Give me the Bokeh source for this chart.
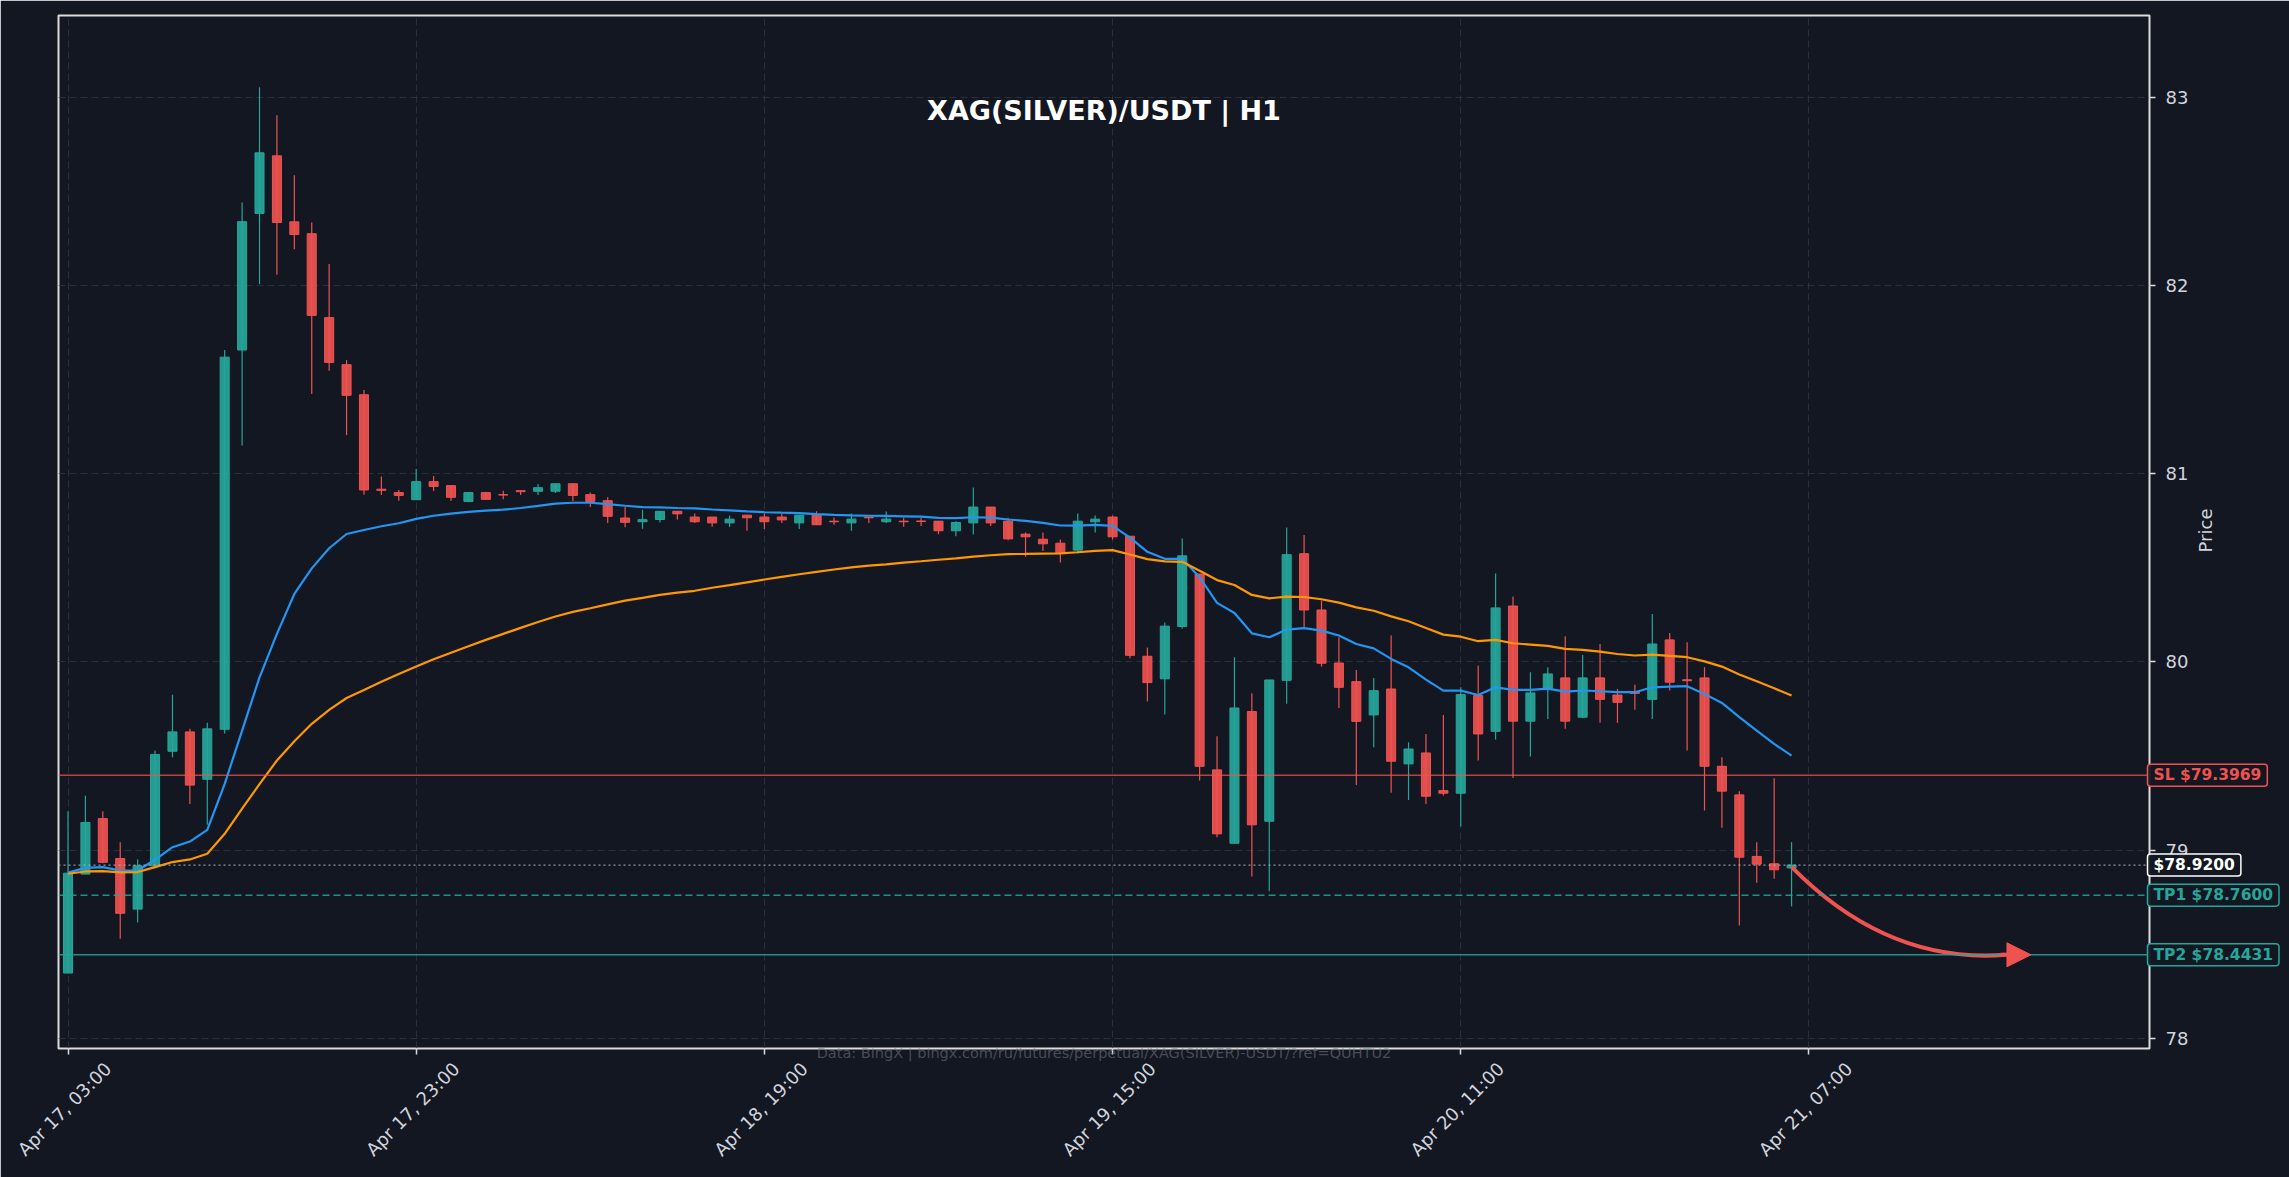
import numpy as np
from bokeh.plotting import figure
from bokeh.models import (ColumnDataSource, Span, Label, FixedTicker, Range1d,
                          Arrow, NormalHead, LinearAxis)
from bokeh.embed import file_html
from bokeh.resources import INLINE

# ---------------- data ----------------
opens = [78.346, 78.872, 79.167, 78.955, 78.686, 78.916, 79.525, 79.628, 79.376, 79.642,
         81.658, 82.384, 82.690, 82.339, 82.276, 81.830, 81.580, 81.420, 80.918, 80.900,
         80.862, 80.958, 80.937, 80.853, 80.900, 80.889, 80.910, 80.907, 80.907, 80.947,
         80.889, 80.857, 80.765, 80.745, 80.757, 80.801, 80.770, 80.770, 80.739, 80.780,
         80.770, 80.770, 80.739, 80.780, 80.748, 80.739, 80.770, 80.745, 80.748, 80.749,
         80.748, 80.697, 80.739, 80.823, 80.748, 80.679, 80.652, 80.631, 80.594, 80.745,
         80.770, 80.668, 80.030, 79.910, 80.188, 80.467, 79.426, 79.036, 79.736, 79.153,
         79.902, 80.575, 80.276, 79.994, 79.895, 79.718, 79.856, 79.458, 79.516, 79.316,
         79.302, 79.821, 79.631, 80.297, 79.685, 79.860, 79.915, 79.706, 79.915, 79.824,
         79.842, 79.801, 80.117, 79.905, 79.915, 79.445, 79.293, 78.966, 78.927, 78.905]

highs = [79.206, 79.288, 79.206, 79.042, 78.951, 79.529, 79.825, 79.644, 79.676, 81.658,
         82.442, 83.055, 82.906, 82.587, 82.336, 82.115, 81.604, 81.445, 80.986, 80.914,
         81.025, 80.988, 80.937, 80.900, 80.900, 80.910, 80.910, 80.946, 80.947, 80.947,
         80.900, 80.875, 80.825, 80.808, 80.800, 80.801, 80.789, 80.770, 80.778, 80.780,
         80.789, 80.789, 80.780, 80.801, 80.768, 80.789, 80.770, 80.800, 80.766, 80.766,
         80.748, 80.748, 80.927, 80.823, 80.766, 80.688, 80.688, 80.651, 80.789, 80.778,
         80.778, 80.668, 80.076, 80.209, 80.656, 80.467, 79.605, 80.025, 79.833, 79.904,
         80.715, 80.675, 80.326, 80.131, 79.957, 79.915, 80.140, 79.573, 79.617, 79.718,
         79.865, 79.980, 80.470, 80.347, 79.945, 79.972, 80.136, 80.037, 80.095, 79.856,
         79.878, 80.255, 80.154, 80.104, 79.972, 79.493, 79.313, 79.042, 79.382, 79.042]

lows = [78.346, 78.872, 78.930, 78.528, 78.615, 78.916, 79.493, 79.245, 79.134, 79.620,
        81.150, 82.008, 82.058, 82.194, 81.424, 81.548, 81.206, 80.889, 80.887, 80.857,
        80.862, 80.908, 80.855, 80.853, 80.864, 80.865, 80.887, 80.887, 80.898, 80.855,
        80.823, 80.738, 80.716, 80.708, 80.741, 80.757, 80.739, 80.718, 80.718, 80.697,
        80.707, 80.739, 80.707, 80.729, 80.729, 80.697, 80.739, 80.739, 80.718, 80.722,
        80.679, 80.668, 80.677, 80.722, 80.647, 80.559, 80.589, 80.528, 80.576, 80.688,
        80.651, 80.020, 79.790, 79.720, 80.177, 79.369, 79.068, 79.036, 78.859, 78.781,
        79.777, 80.184, 79.975, 79.755, 79.346, 79.546, 79.304, 79.266, 79.245, 79.290,
        79.125, 79.476, 79.587, 79.383, 79.497, 79.697, 79.644, 79.700, 79.676, 79.676,
        79.745, 79.697, 79.848, 79.529, 79.210, 79.118, 78.599, 78.826, 78.847, 78.700]

closes = [78.877, 79.146, 78.935, 78.664, 78.916, 79.508, 79.628, 79.345, 79.644, 81.620,
          82.340, 82.706, 82.336, 82.272, 81.842, 81.592, 81.417, 80.914, 80.912, 80.885,
          80.958, 80.933, 80.875, 80.900, 80.864, 80.887, 80.905, 80.926, 80.947, 80.885,
          80.853, 80.774, 80.742, 80.756, 80.800, 80.787, 80.745, 80.739, 80.759, 80.766,
          80.745, 80.755, 80.780, 80.729, 80.745, 80.759, 80.766, 80.759, 80.745, 80.746,
          80.697, 80.741, 80.823, 80.739, 80.654, 80.665, 80.628, 80.580, 80.748, 80.759,
          80.665, 80.035, 79.890, 80.190, 80.564, 79.445, 79.086, 79.755, 79.134, 79.904,
          80.570, 80.276, 79.993, 79.865, 79.684, 79.847, 79.472, 79.537, 79.286, 79.302,
          79.826, 79.617, 80.287, 79.685, 79.835, 79.936, 79.685, 79.915, 79.801, 79.785,
          79.833, 80.095, 79.892, 79.900, 79.445, 79.313, 78.962, 78.925, 78.895, 78.920]

ema_fast = [78.880, 78.905, 78.909, 78.891, 78.891, 78.948, 79.015, 79.045, 79.107, 79.352,
            79.635, 79.918, 80.149, 80.361, 80.497, 80.604, 80.680, 80.701, 80.721, 80.737,
            80.760, 80.777, 80.788, 80.797, 80.804, 80.809, 80.818, 80.829, 80.841, 80.846,
            80.846, 80.839, 80.830, 80.823, 80.821, 80.818, 80.816, 80.810, 80.805, 80.800,
            80.796, 80.793, 80.791, 80.786, 80.782, 80.779, 80.777, 80.776, 80.774, 80.772,
            80.766, 80.764, 80.769, 80.767, 80.757, 80.750, 80.739, 80.725, 80.724, 80.728,
            80.723, 80.661, 80.585, 80.548, 80.548, 80.450, 80.314, 80.260, 80.152, 80.131,
            80.172, 80.180, 80.166, 80.140, 80.095, 80.072, 80.016, 79.971, 79.906, 79.847,
            79.847, 79.824, 79.865, 79.851, 79.851, 79.858, 79.842, 79.848, 79.844, 79.839,
            79.839, 79.865, 79.869, 79.871, 79.830, 79.782, 79.706, 79.635, 79.564, 79.502]

ema_slow = [78.874, 78.886, 78.888, 78.881, 78.883, 78.909, 78.936, 78.950, 78.980, 79.086,
            79.220, 79.350, 79.476, 79.578, 79.671, 79.745, 79.808, 79.851, 79.895, 79.936,
            79.975, 80.014, 80.049, 80.083, 80.117, 80.149, 80.181, 80.212, 80.241, 80.266,
            80.285, 80.306, 80.326, 80.340, 80.356, 80.368, 80.378, 80.394, 80.408, 80.423,
            80.438, 80.452, 80.466, 80.479, 80.491, 80.502, 80.512, 80.518, 80.528, 80.535,
            80.543, 80.550, 80.560, 80.567, 80.573, 80.574, 80.576, 80.577, 80.583, 80.590,
            80.594, 80.571, 80.546, 80.534, 80.532, 80.485, 80.435, 80.409, 80.356, 80.338,
            80.347, 80.345, 80.333, 80.315, 80.290, 80.272, 80.242, 80.216, 80.180, 80.145,
            80.134, 80.110, 80.117, 80.099, 80.092, 80.085, 80.069, 80.064, 80.055, 80.042,
            80.034, 80.039, 80.032, 80.025, 80.003, 79.975, 79.933, 79.897, 79.860, 79.821]

tick_pos = [0, 20, 40, 60, 80, 100]
tick_labels = ["Apr 17, 03:00", "Apr 17, 23:00", "Apr 18, 19:00",
               "Apr 19, 15:00", "Apr 20, 11:00", "Apr 21, 07:00"]
price_ticks = [78, 79, 80, 81, 82, 83]

sl_price = 79.3969
tp1_price = 78.7600
tp2_price = 78.4431
last_price = 78.9200

title_text = "XAG(SILVER)/USDT | H1"
source_text = "Data: BingX | bingx.com/ru/futures/perpetual/XAG(SILVER)-USDT/?ref=QUHTU2"

# ---------------- style ----------------
BG = "#131722"
GREEN = "#26a69a"
RED = "#ef5350"
BLUE = "#2196f3"
ORANGE = "#ff9800"
FG = "#d1d4dc"
FRAME = "#dcdcdc"
FONT = "DejaVu Sans"

W, H = 2289, 1177
ML, MR, MT, MB = 58, 140, 15, 129
FW, FH = W - ML - MR, H - MT - MB
x0, x1 = -0.546, 119.56
y0, y1 = 77.945, 83.436
px_x = (x1 - x0) / FW
px_y = (y1 - y0) / FH

p = figure(width=W, height=H, output_backend="svg", toolbar_location=None,
           x_range=Range1d(x0, x1), y_range=Range1d(y0, y1),
           x_axis_location="below", y_axis_location="right",
           min_border_left=ML, min_border_right=MR, min_border_top=MT, min_border_bottom=MB,
           background_fill_color=BG, border_fill_color=BG,
           outline_line_color=FRAME, outline_line_width=2)

# x axis: tick marks only
xa = p.xaxis[0]
xa.ticker = FixedTicker(ticks=tick_pos)
xa.major_label_overrides = {t: "" for t in tick_pos}
xa.major_label_text_font_size = "0px"
xa.major_label_standoff = 0
xa.axis_line_color = None
xa.major_tick_line_color = FRAME
xa.major_tick_line_width = 1.5
xa.major_tick_out = 6
xa.major_tick_in = 0
xa.minor_tick_line_color = None

# x tick labels: second axis on a range shifted so the slanted labels sit centred on the ticks
shift = 40 * px_x
p.extra_x_ranges = {"labels": Range1d(x0 - shift, x1 - shift)}
la = LinearAxis(x_range_name="labels", ticker=FixedTicker(ticks=tick_pos),
                major_label_overrides={t: s for t, s in zip(tick_pos, tick_labels)},
                major_label_orientation=np.pi / 4,
                major_label_text_color=FG, major_label_text_font=FONT,
                major_label_text_font_size="18px", major_label_standoff=11,
                axis_line_color=None, major_tick_line_color=None,
                major_tick_out=0, major_tick_in=0, minor_tick_line_color=None)
p.add_layout(la, "below")

# y axis on the right
ya = p.yaxis[0]
ya.ticker = FixedTicker(ticks=price_ticks)
ya.axis_line_color = None
ya.major_tick_line_color = FRAME
ya.major_tick_line_width = 1.5
ya.major_tick_out = 6
ya.major_tick_in = 0
ya.minor_tick_line_color = None
ya.major_label_text_color = FG
ya.major_label_text_font = FONT
ya.major_label_text_font_size = "18px"
ya.major_label_standoff = 10

for g in (p.xgrid[0], p.ygrid[0]):
    g.grid_line_color = "#363a45"
    g.grid_line_alpha = 0.7
    g.grid_line_dash = "7 4"
    g.grid_line_width = 1

# candles
idx = np.arange(len(closes))
o = np.array(opens); c = np.array(closes)
colors = [GREEN if cc >= oo else RED for oo, cc in zip(o, c)]
src = ColumnDataSource(dict(x=idx, h=highs, l=lows,
                            top=np.maximum(o, c), bottom=np.minimum(o, c),
                            color=colors))
p.segment(x0="x", y0="h", x1="x", y1="l", line_color="color", line_width=1.2, source=src)
p.vbar(x="x", width=0.52, top="top", bottom="bottom", fill_color="color",
       line_color="color", line_width=1, fill_alpha=0.92, source=src)

# moving averages
p.line(idx, ema_fast, line_color=BLUE, line_width=2.2)
p.line(idx, ema_slow, line_color=ORANGE, line_width=2.2)

# levels
p.add_layout(Span(location=sl_price, dimension="width", line_color=RED, line_width=1.5, line_alpha=0.75))
p.add_layout(Span(location=last_price, dimension="width", line_color="#b2b5be", line_width=1.3,
                  line_alpha=0.8, line_dash="2 3"))
p.add_layout(Span(location=tp1_price, dimension="width", line_color=GREEN, line_width=1.5,
                  line_alpha=0.85, line_dash="7 4"))
p.add_layout(Span(location=tp2_price, dimension="width", line_color=GREEN, line_width=1.5, line_alpha=0.85))

# projection arrow
n_last = len(closes) - 1
ax_end = n_last + 12.3
p.quadratic(x0=[n_last], y0=[last_price - 0.01], x1=[ax_end], y1=[tp2_price],
            cx=[n_last + 5.5], cy=[tp2_price - 0.05], line_color=RED, line_width=4)
p.add_layout(Arrow(end=NormalHead(size=24, fill_color=RED, line_color=RED, line_width=1),
                   x_start=ax_end - 0.3, y_start=tp2_price, x_end=ax_end + 1.45, y_end=tp2_price,
                   line_color=RED, line_width=4))

# chart title (inside the frame)
p.add_layout(Label(x=(x0 + x1) / 2, y=y1 - 95 * px_y, text=title_text,
                   text_align="center", text_baseline="middle",
                   text_color="#ffffff", text_font=FONT, text_font_size="27px",
                   text_font_style="bold"))

# ---- transparent overlay (separate root) with the same value mapping extended to the
#      whole canvas, for texts that sit outside the frame ----
ov = figure(width=W, height=H, output_backend="svg", toolbar_location=None,
            x_range=Range1d(x0 - ML * px_x, x1 + MR * px_x),
            y_range=Range1d(y0 - MB * px_y, y1 + MT * px_y),
            x_axis_location=None, y_axis_location=None, min_border=0,
            background_fill_color=None, border_fill_color=None, outline_line_color=None,
            styles={"position": "absolute", "left": "0px", "top": "0px"})
for g in list(ov.xgrid) + list(ov.ygrid):
    g.visible = False

def tag(price, text, color):
    ov.add_layout(Label(x=x1, y=price, x_offset=-2, text=text, text_align="left",
                        text_baseline="middle", text_color=color, text_font=FONT,
                        text_font_size="15.5px", text_font_style="bold",
                        background_fill_color=BG, background_fill_alpha=0.95,
                        border_line_color=color, border_line_width=1.5,
                        border_radius=3,
                        padding=dict(left=6, right=6, top=2, bottom=2)))

tag(sl_price, f"SL ${sl_price:.4f}", RED)
tag(last_price, f"${last_price:.4f}", "#ffffff")
tag(tp1_price, f"TP1 ${tp1_price:.4f}", GREEN)
tag(tp2_price, f"TP2 ${tp2_price:.4f}", GREEN)

ov.add_layout(Label(x=x1 + 56 * px_x, y=y1 - 515 * px_y, text="Price", angle=np.pi / 2,
                    text_align="center", text_baseline="middle",
                    text_color=FG, text_font=FONT, text_font_size="18px"))

ov.add_layout(Label(x=(x0 + x1) / 2, y=y0 - 4.5 * px_y, text=source_text,
                    text_align="center", text_baseline="alphabetic",
                    text_color="#787b86", text_alpha=0.55, text_font=FONT,
                    text_font_size="14.5px"))

html = file_html([p, ov], INLINE, title=title_text)
open("out.html", "w").write(html)
